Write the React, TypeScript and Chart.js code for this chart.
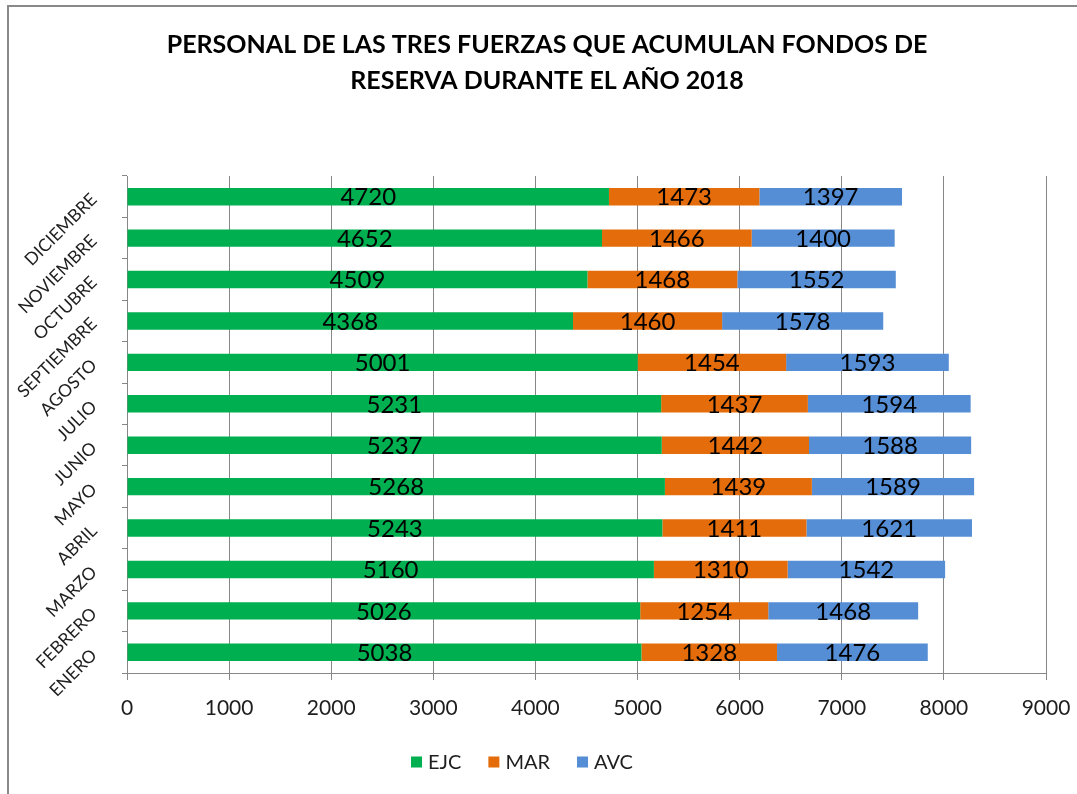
import React, { useEffect, useRef } from "react";
import { Chart, registerables } from "chart.js";

Chart.register(...registerables);

const months = [
  "ENERO", "FEBRERO", "MARZO", "ABRIL", "MAYO", "JUNIO",
  "JULIO", "AGOSTO", "SEPTIEMBRE", "OCTUBRE", "NOVIEMBRE", "DICIEMBRE",
];
const ejcValues = [5038, 5026, 5160, 5243, 5268, 5237, 5231, 5001, 4368, 4509, 4652, 4720];
const marValues = [1328, 1254, 1310, 1411, 1439, 1442, 1437, 1454, 1460, 1468, 1466, 1473];
const avcValues = [1476, 1468, 1542, 1621, 1589, 1588, 1594, 1593, 1578, 1552, 1400, 1397];
const seriesNames = ["EJC", "MAR", "AVC"];
const xMin = 0;
const xMax = 9000;
const xStep = 1000;
const titleLines = [
  "PERSONAL DE LAS TRES FUERZAS QUE ACUMULAN FONDOS DE",
  "RESERVA DURANTE EL AÑO 2018",
];

const COLORS = ["#00B050", "#E46C0A", "#558ED5"];
const FONT = "Lato, 'Open Sans', sans-serif";
const TEXT = "#1e1e1e";
const GRID = "#878787";

const valueLabels = {
  id: "valueLabels",
  afterDatasetsDraw(chart: any) {
    const ctx = chart.ctx;
    ctx.save();
    ctx.font = `24px ${FONT}`;
    ctx.fillStyle = "#000";
    ctx.textAlign = "center";
    ctx.textBaseline = "middle";
    chart.data.datasets.forEach((ds: any, i: number) => {
      const meta = chart.getDatasetMeta(i);
      meta.data.forEach((bar: any, j: number) => {
        const cx = (bar.x + bar.base) / 2;
        ctx.fillText(String(ds.data[j]), cx, bar.y + 1);
      });
    });
    ctx.restore();
  },
};

const LEGEND_CENTER_X = 522;
const LEGEND_Y = 762;

const bottomLegend = {
  id: "bottomLegend",
  afterDraw(chart: any) {
    const ctx = chart.ctx;
    ctx.save();
    ctx.font = `20px ${FONT}`;
    ctx.textBaseline = "middle";
    ctx.textAlign = "left";
    const box = 11;
    const gap = 6;
    const spacing = 27;
    const items = chart.data.datasets.map((ds: any) => ({
      label: ds.label,
      color: ds.backgroundColor,
      w: ctx.measureText(ds.label).width,
    }));
    const total =
      items.reduce((s: number, it: any) => s + box + gap + it.w, 0) +
      spacing * (items.length - 1);
    let x = LEGEND_CENTER_X - total / 2;
    items.forEach((it: any) => {
      ctx.fillStyle = it.color;
      ctx.fillRect(x, LEGEND_Y - box / 2, box, box);
      ctx.fillStyle = TEXT;
      ctx.fillText(it.label, x + box + gap, LEGEND_Y + 1);
      x += box + gap + it.w + spacing;
    });
    ctx.restore();
  },
};

// Centre the title over the whole chart object rather than the padded canvas.
const TITLE_LEFT = 48;
const TITLE_RIGHT = 1046;
const titleCentering = {
  id: "titleCentering",
  afterLayout(chart: any) {
    if (chart.titleBlock) {
      chart.titleBlock.left = TITLE_LEFT;
      chart.titleBlock.right = TITLE_RIGHT;
    }
  },
};

export default function App() {
  const canvasRef = useRef<HTMLCanvasElement | null>(null);

  useEffect(() => {
    if (!canvasRef.current) return;
    const chart = new Chart(canvasRef.current, {
      type: "bar",
      data: {
        labels: months,
        datasets: [ejcValues, marValues, avcValues].map((vals, i) => ({
          label: seriesNames[i],
          data: vals,
          backgroundColor: COLORS[i],
          borderWidth: 0,
          categoryPercentage: 1,
          barPercentage: 0.42,
        })),
      },
      options: {
        indexAxis: "y",
        animation: false,
        responsive: false,
        maintainAspectRatio: false,
        layout: { padding: { left: 0, right: 31, top: 0, bottom: 0 } },
        plugins: {
          legend: { display: false },
          tooltip: { enabled: false },
          title: {
            display: true,
            text: titleLines,
            color: "#000",
            font: { family: FONT, size: 25, weight: "bold", lineHeight: 1.42 },
            padding: { top: 27.5, bottom: 77.5 },
          },
        },
        scales: {
          x: {
            stacked: true,
            min: xMin,
            max: xMax,
            ticks: {
              stepSize: xStep,
              color: TEXT,
              font: { family: FONT, size: 21 },
              padding: 16,
              maxRotation: 0,
              callback: (v: any) => String(v),
            },
            grid: { color: GRID, lineWidth: 1, tickLength: 7, drawTicks: true },
            border: { color: GRID, width: 1 },
            afterFit(scale: any) {
              scale.height = 121;
              scale.paddingLeft = 0;
              scale.paddingRight = 0;
            },
          },
          y: {
            stacked: true,
            reverse: true,
            ticks: {
              color: TEXT,
              font: { family: FONT, size: 17.5 },
              minRotation: 45,
              maxRotation: 45,
              padding: 28,
            },
            grid: { drawOnChartArea: false, drawTicks: true, tickLength: 5, color: GRID },
            border: { color: GRID, width: 1 },
            afterFit(scale: any) {
              scale.width = 127;
            },
          },
        },
      },
      plugins: [valueLabels, bottomLegend, titleCentering],
    });
    return () => chart.destroy();
  }, []);

  return (
    <div style={{ position: "absolute", left: 0, top: 0, width: 1077, height: 794, background: "#fff", overflow: "hidden" }}>
      <canvas ref={canvasRef} width={1077} height={794} style={{ display: "block" }} />
      <div
        style={{
          position: "absolute",
          left: 7,
          top: 5,
          width: 1080,
          height: 800,
          borderLeft: "2px solid #898989",
          borderTop: "2px solid #898989",
          pointerEvents: "none",
        }}
      />
    </div>
  );
}
